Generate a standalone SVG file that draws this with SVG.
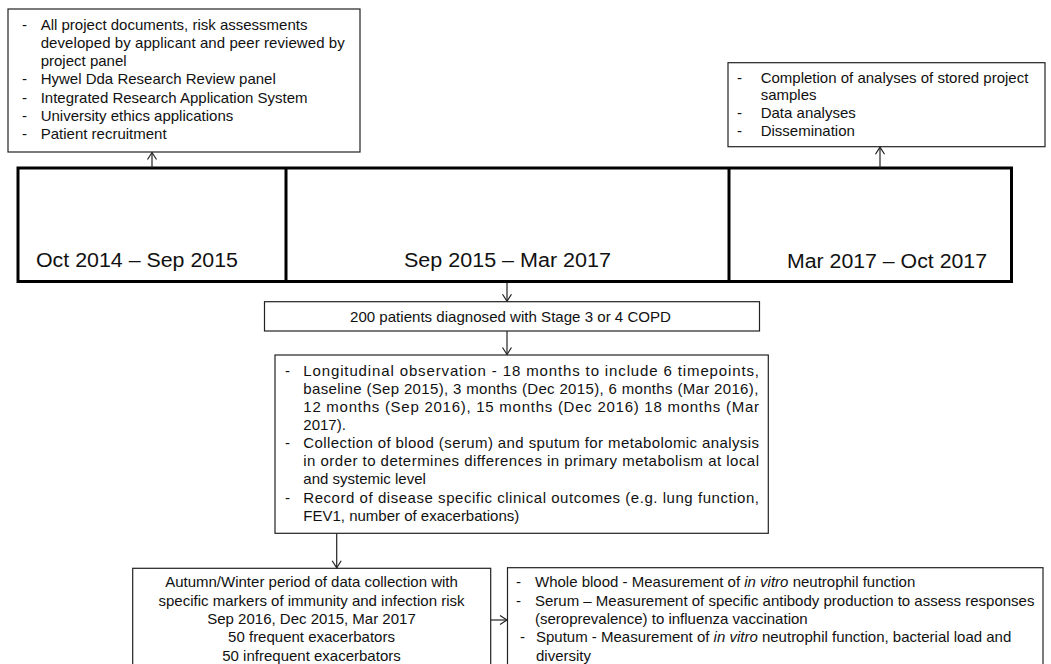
<svg xmlns="http://www.w3.org/2000/svg" width="1051" height="664" viewBox="0 0 1051 664">
<style>
text{font-family:"Liberation Sans",Arial,sans-serif;font-size:15px;fill:#111}
.box{fill:#fff;stroke:#222;stroke-width:1.2}
.big{fill:none;stroke:#000;stroke-width:3}
.lbl{font-size:20px}
.c{text-anchor:middle}
.conn{stroke:#222;stroke-width:1.2;fill:none}
</style>
<defs>
<marker id="ah" markerUnits="userSpaceOnUse" markerWidth="14" markerHeight="14" refX="8" refY="7" orient="auto" viewBox="0 0 14 14">
<path d="M1,2.5 L8,7 L1,11.5" fill="none" stroke="#222" stroke-width="1.2"/>
</marker>
</defs>
<rect width="1051" height="664" fill="#fff"/>

<g id="timeline">
<rect class="big" x="18" y="168" width="993.5" height="113.5"/>
<line class="big" x1="286" y1="168" x2="286" y2="281.5"/>
<line class="big" x1="729" y1="168" x2="729" y2="281.5"/>
</g>
<g id="phase1"><text class="lbl" x="36" y="266.5" textLength="202" lengthAdjust="spacingAndGlyphs">Oct 2014 – Sep 2015</text></g>
<g id="phase2"><text class="lbl" x="404" y="266.5" textLength="207" lengthAdjust="spacingAndGlyphs">Sep 2015 – Mar 2017</text></g>
<g id="phase3"><text class="lbl" x="787" y="268" textLength="200" lengthAdjust="spacingAndGlyphs">Mar 2017 – Oct 2017</text></g>

<g id="setup">
<rect class="box" x="8" y="9" width="352" height="143"/>
<text x="22" y="29.5">-</text><text x="40.7" y="29.5">All project documents, risk assessments</text>
<text x="40.7" y="47.8" textLength="304" lengthAdjust="spacing">developed  by applicant and peer reviewed  by</text>
<text x="40.7" y="66.1">project panel</text>
<text x="22" y="84.4">-</text><text x="40.7" y="84.4">Hywel Dda Research Review  panel</text>
<text x="22" y="102.7">-</text><text x="40.7" y="102.7">Integrated Research Application System</text>
<text x="22" y="121">-</text><text x="40.7" y="121">University ethics applications</text>
<text x="22" y="139.3">-</text><text x="40.7" y="139.3">Patient recruitment</text>
</g>

<g id="closing">
<rect class="box" x="728" y="62.7" width="317" height="84"/>
<text x="737" y="82.5">-</text><text x="760.7" y="82.5">Completion of analyses of stored project</text>
<text x="760.7" y="100.2">samples</text>
<text x="737" y="117.9">-</text><text x="760.7" y="117.9">Data analyses</text>
<text x="737" y="135.6">-</text><text x="760.7" y="135.6">Dissemination</text>
</g>

<g id="patients">
<rect class="box" x="264.5" y="301.7" width="495" height="29.3"/>
<text x="350" y="321.5" textLength="321" lengthAdjust="spacingAndGlyphs">200 patients diagnosed with Stage 3 or 4 COPD</text>
</g>

<g id="observation">
<rect class="box" x="275" y="355" width="493.3" height="178.3"/>
<text x="285" y="376">-</text><text x="303.3" y="376" textLength="455.7" lengthAdjust="spacing">Longitudinal observation - 18 months to include 6 timepoints,</text>
<text x="303.3" y="394" textLength="455" lengthAdjust="spacing">baseline (Sep 2015), 3 months (Dec 2015), 6 months (Mar 2016),</text>
<text x="303.3" y="412" textLength="455.7" lengthAdjust="spacing">12 months (Sep 2016), 15 months (Dec 2016) 18 months (Mar</text>
<text x="303.3" y="430.2">2017).</text>
<text x="285" y="448.2">-</text><text x="303.3" y="448.2" textLength="455.7" lengthAdjust="spacing">Collection of blood (serum) and sputum for metabolomic analysis</text>
<text x="303.3" y="466.3" textLength="455.7" lengthAdjust="spacing">in order to determines differences in primary metabolism at local</text>
<text x="303.3" y="484.4">and systemic level</text>
<text x="285" y="502.5">-</text><text x="303.3" y="502.5" textLength="455.7" lengthAdjust="spacing">Record of disease specific clinical outcomes (e.g. lung function,</text>
<text x="303.3" y="520.5">FEV1, number of exacerbations)</text>
</g>

<g id="autumn">
<rect class="box" x="132.7" y="568.3" width="358" height="110"/>
<text class="c" x="311.5" y="587">Autumn/Winter period of data collection with</text>
<text class="c" x="311.5" y="605.5">specific markers of immunity and infection risk</text>
<text class="c" x="311.5" y="624">Sep 2016, Dec 2015, Mar 2017</text>
<text class="c" x="311.5" y="642">50 frequent  exacerbators</text>
<text class="c" x="311.5" y="660.5">50 infrequent  exacerbators</text>
</g>

<g id="measures">
<rect class="box" x="507.5" y="567.7" width="535.5" height="110"/>
<text x="516" y="587">-</text><text x="535" y="587">Whole blood - Measurement of <tspan font-style="italic">in vitro</tspan> neutrophil function</text>
<text x="516" y="605.5">-</text><text x="535" y="605.5">Serum – Measurement of specific antibody production to assess responses</text>
<text x="535" y="624">(seroprevalence)  to influenza vaccination</text>
<text x="520" y="642">-</text><text x="536" y="642">Sputum - Measurement of  <tspan font-style="italic">in vitro</tspan> neutrophil function, bacterial load and</text>
<text x="536" y="660.5">diversity</text>
</g>

<g id="connectors">
<line class="conn" x1="152" y1="168" x2="152" y2="152.5" marker-end="url(#ah)"/>
<line class="conn" x1="880" y1="168" x2="880" y2="147.2" marker-end="url(#ah)"/>
<line class="conn" x1="507" y1="283" x2="507" y2="301.2" marker-end="url(#ah)"/>
<line class="conn" x1="507" y1="331" x2="507" y2="354.5" marker-end="url(#ah)"/>
<line class="conn" x1="336.7" y1="533.3" x2="336.7" y2="567.8" marker-end="url(#ah)"/>
<line class="conn" x1="490.7" y1="620" x2="507" y2="620" marker-end="url(#ah)"/>
</g>
</svg>
